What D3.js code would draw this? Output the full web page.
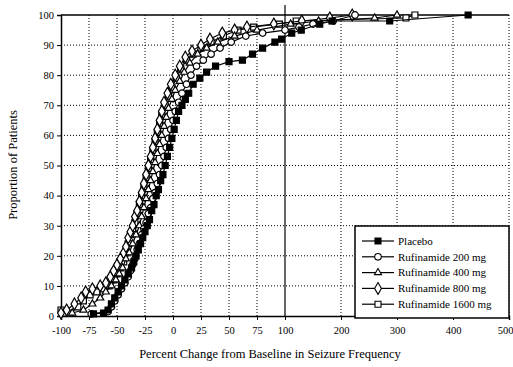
<!DOCTYPE html>
<html><head><meta charset="utf-8">
<script src="https://cdn.jsdelivr.net/npm/d3@7"></script>
<style>body{margin:0;background:#fff}svg{display:block}text{font-family:"Liberation Serif","DejaVu Serif",serif;fill:#000}</style>
</head><body><svg id="c" width="513" height="367"></svg>
<script>
const xTicks = [-100,-75,-50,-25,0,25,50,75,100,200,300,400,500];
const yTicks = [0,10,20,30,40,50,60,70,80,90,100];
const seriesNames = ["Placebo","Rufinamide 200 mg","Rufinamide 400 mg","Rufinamide 800 mg","Rufinamide 1600 mg"];
const placeboX = [-71,-62,-58,-55,-52,-49,-46,-43,-40,-37,-35,-33,-31,-29,-27,-25,-23,-21,-19,-17,-15,-13,-11,-9,-7,-5,-3,-1,1,3,5,8,11,14,18,24,30,38,50,62,71,80,91,97,112,129,162,184,287,427];
const placeboY = [0.7,1,2,4,6,8,10,12,14,16,18,20,22,24,26,28,30,32,35,37,40,42,45,47,50,53,56,59,62,65,68,70,72,74,77,79,81,83,84.5,85,87,89,91,92,94,95,97,98,98,100];
const r200X = [-73,-58,-55,-52,-49,-46,-43,-40,-38,-36,-34,-32,-30,-28,-26,-24,-22,-20,-18,-16,-14,-12,-10,-8,-6,-4,-2,0,2,5,8,12,16,21,27,34,42,52,65,80,100,125,150,186,225];
const r200Y = [0.7,1.5,3,5,7,9,11,13,15,17,19,22,24,27,29,31,34,36,39,41,44,47,50,53,56,59,62,65,68,71,74,77,80,83,85,87,89,91,93,94,95,96,97,98,100];
const r400X = [-90,-80,-72,-65,-60,-55,-51,-48,-45,-42,-39,-36,-33,-30,-28,-26,-24,-22,-20,-18,-16,-14,-12,-10,-8,-6,-4,-1,2,6,10,15,22,30,40,55,75,110,160,260,300];
const r400Y = [1,2,4,6,8,10,12,14,16,19,21,24,27,30,33,36,39,42,45,48,51,54,57,60,63,66,69,72,75,78,81,84,87,89,91,93,95,97,98,99,100];
const r800X = [-100,-95,-88,-82,-78,-72,-65,-60,-56,-53,-50,-47,-44,-42,-40,-38,-36,-34,-32,-30,-28,-26,-24,-22,-20,-18,-16,-14,-12,-10,-8,-5,-2,2,6,11,17,25,33,44,55,66,90,130,180,220];
const r800Y = [1,2,4,6,8,9,10,11,13,15,17,19,21,23,26,28,30,33,35,38,41,44,47,50,53,56,59,62,65,68,71,74,77,80,83,86,88,90,92,94,95,96,97,98,99,100];
const r1600X = [-100,-97,-92,-85,-80,-74,-68,-62,-57,-53,-50,-47,-44,-42,-40,-38,-36,-34,-32,-30,-28,-26,-24,-22,-20,-18,-16,-14,-12,-10,-7,-4,-1,3,7,12,18,25,34,45,58,72,95,120,316,332];
const r1600Y = [2,1,1,3,5,7,8,9,10,12,14,16,18,21,24,27,29,31,34,37,40,43,46,49,52,55,58,61,64,67,70,73,76,79,82,85,87,89,91,93,95,96,97,98,99,100];

const svg = d3.select("#c");
const x = d3.scaleLinear().domain([-100,100,500]).range([61,285,509]);
const y = d3.scaleLinear().domain([0,100]).range([316,15]);

// grid
const g = svg.append("g");
g.selectAll(".gx").data(xTicks.filter(v=>v!==-100 && v!==100)).join("line")
  .attr("x1",d=>x(d)).attr("x2",d=>x(d)).attr("y1",y(0)).attr("y2",y(100))
  .attr("stroke","#000").attr("stroke-width",1).attr("stroke-dasharray","1,2");
g.selectAll(".gy").data(yTicks.filter(v=>v>0 && v<100)).join("line")
  .attr("x1",x(-100)).attr("x2",x(500)).attr("y1",d=>y(d)).attr("y2",d=>y(d))
  .attr("stroke","#000").attr("stroke-width",1).attr("stroke-dasharray","1,2");
// top border
svg.append("line").attr("x1",x(-100)).attr("x2",x(500)).attr("y1",y(100)).attr("y2",y(100)).attr("stroke","#000").attr("stroke-width",1.5);
// break line at 100
svg.append("line").attr("x1",x(100)).attr("x2",x(100)).attr("y1",5).attr("y2",y(0)).attr("stroke","#000").attr("stroke-width",1.2);

// axes
const ax = svg.append("g").attr("transform",`translate(0,${y(0)})`)
  .call(d3.axisBottom(x).tickValues(xTicks).tickSize(4).tickFormat(d=>d));
ax.select(".domain").attr("stroke-width",1.5);
ax.selectAll("text").attr("font-size",10.5).attr("dy","1.05em").style("font-family","Liberation Serif")
  .filter(d=>d===500).attr("text-anchor","end").attr("dx","4");
const ay = svg.append("g").attr("transform",`translate(${x(-100)},0)`)
  .call(d3.axisLeft(y).tickValues(yTicks).tickSize(4).tickFormat(d=>d));
ay.select(".domain").attr("stroke-width",1.5);
ay.selectAll("text").attr("font-size",10.5).style("font-family","Liberation Serif");

// series
const series = [
  {name:seriesNames[0], xs:placeboX, ys:placeboY, m:"sq", fill:"#000"},
  {name:seriesNames[1], xs:r200X, ys:r200Y, m:"ci", fill:"#fff"},
  {name:seriesNames[2], xs:r400X, ys:r400Y, m:"tr", fill:"#fff"},
  {name:seriesNames[3], xs:r800X, ys:r800Y, m:"di", fill:"#fff"},
  {name:seriesNames[4], xs:r1600X, ys:r1600Y, m:"sq", fill:"#fff"}
];
const symType = {sq:d3.symbolSquare, ci:d3.symbolCircle, tr:d3.symbolTriangle, di:d3.symbolDiamond};
const symSize = {sq:36, ci:34, tr:22, di:40};
const line = d3.line().x(d=>x(d[0])).y(d=>y(d[1]));
const order = [4,3,2,1,0];
order.forEach(i=>{
  const s = series[i];
  const pts = s.xs.map((v,k)=>[v,s.ys[k]]);
  svg.append("path").attr("d",line(pts)).attr("fill","none").attr("stroke","#000").attr("stroke-width",1.2);
  svg.append("g").selectAll("path").data(pts).join("path")
    .attr("transform",d=>`translate(${x(d[0])},${y(d[1])})`)
    .attr("d",d3.symbol().type(symType[s.m]).size(symSize[s.m]))
    .attr("fill",s.fill).attr("stroke","#000").attr("stroke-width",1.2);
});

// legend
const lg = svg.append("g");
lg.append("rect").attr("x",355).attr("y",226).attr("width",154).attr("height",92)
  .attr("fill","#fff").attr("stroke","#000").attr("stroke-width",1.5);
series.forEach((s,i)=>{
  const ly = 241 + i*15.8;
  lg.append("line").attr("x1",362).attr("x2",394).attr("y1",ly).attr("y2",ly).attr("stroke","#000").attr("stroke-width",1.2);
  lg.append("path").attr("transform",`translate(378,${ly})`)
    .attr("d",d3.symbol().type(symType[s.m]).size(symSize[s.m]))
    .attr("fill",s.fill).attr("stroke","#000").attr("stroke-width",1.1);
  lg.append("text").attr("x",398).attr("y",ly).attr("dy","0.35em").attr("font-size",11).text(s.name);
});

// axis titles
svg.append("text").attr("x",270).attr("y",358).attr("text-anchor","middle").attr("font-size",12.5)
  .text("Percent Change from Baseline in Seizure Frequency");
svg.append("text").attr("transform","translate(17,165) rotate(-90)").attr("text-anchor","middle").attr("font-size",12.5)
  .text("Proportion of Patients");
</script></body></html>
